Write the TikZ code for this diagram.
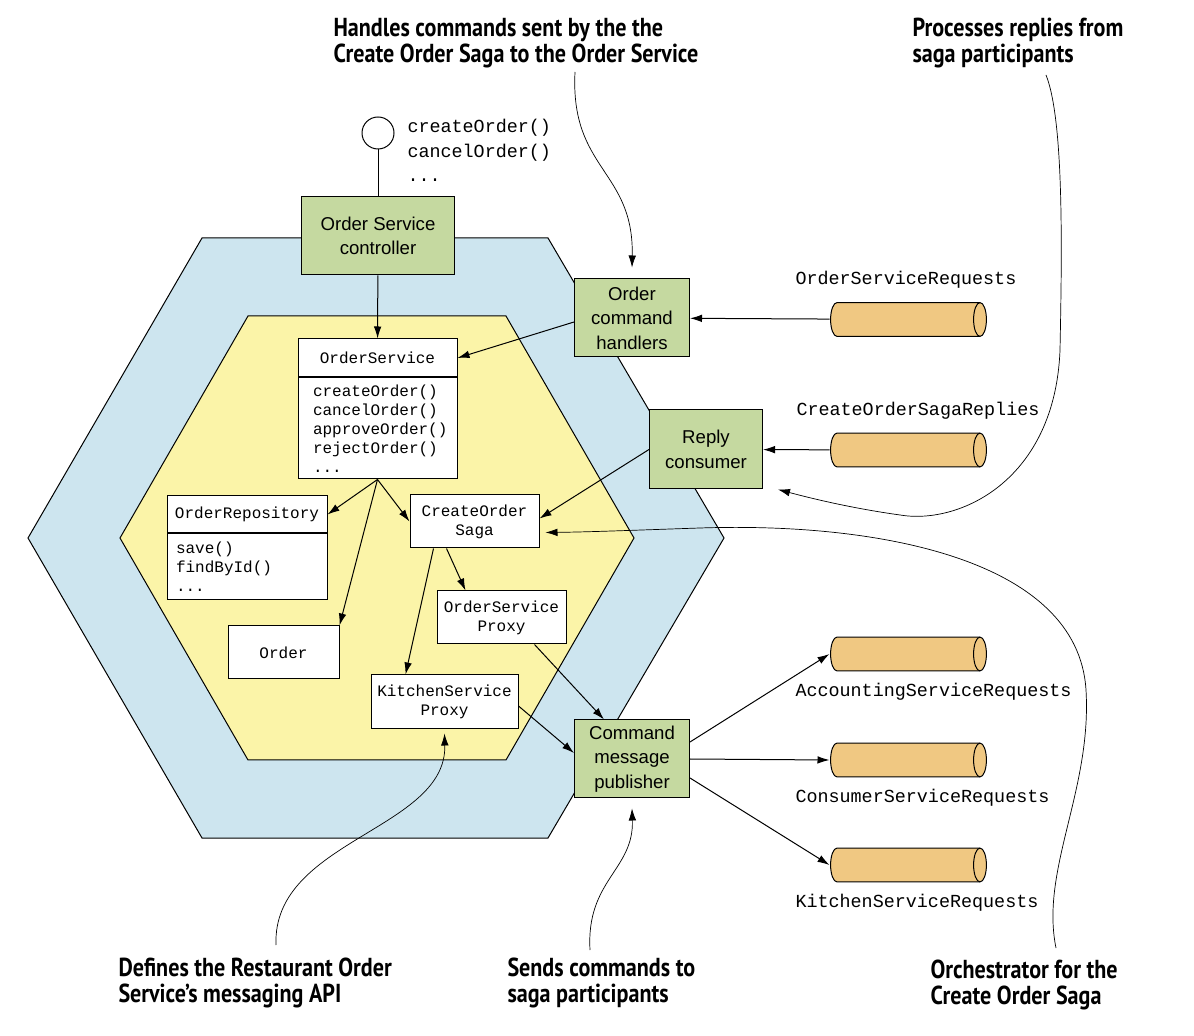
\documentclass[tikz,border=0pt]{standalone}
\usepackage{fontspec}
\setmainfont{Liberation Sans}
\setmonofont{Liberation Mono}
\newfontfamily\capfont{PT Sans}[FakeStretch=0.85]
\usetikzlibrary{arrows.meta}
\definecolor{hexblue}{HTML}{CDE5EF}
\definecolor{hexyellow}{HTML}{FBF4A8}
\definecolor{compgreen}{HTML}{C5D9A0}
\definecolor{queueorange}{HTML}{F0C882}
\begin{document}
\begin{tikzpicture}[x=0.5pt,y=-0.5pt,
    >={Latex[length=6pt,width=3.8pt]},
    every path/.style={line width=0.5pt},
    comp/.style={draw,fill=compgreen,minimum width=57.5pt,minimum height=39pt,inner sep=0pt,align=center,font=\fontsize{9.3}{12.25}\selectfont},
    cls/.style={draw,fill=white,minimum width=64.5pt,minimum height=26.5pt,inner sep=0pt,align=center,font=\ttfamily\fontsize{8}{9.5}\selectfont},
    queue/.style={minimum width=78.5pt,minimum height=17.5pt,inner sep=0pt,
        path picture={
            \path[draw,fill=queueorange]
                ([xshift=3.5pt,yshift=-0.3pt]path picture bounding box.north west)
                -- ([xshift=-3.5pt,yshift=-0.3pt]path picture bounding box.north east)
                arc[start angle=90,end angle=-90,x radius=3.2pt,y radius=8.45pt]
                -- ([xshift=3.5pt,yshift=0.3pt]path picture bounding box.south west)
                arc[start angle=270,end angle=90,x radius=3.2pt,y radius=8.45pt] -- cycle;
            \draw ([xshift=-3.5pt,yshift=-0.3pt]path picture bounding box.north east)
                arc[start angle=90,end angle=270,x radius=3.2pt,y radius=8.45pt];
        }},
    qlabel/.style={anchor=west,inner sep=0pt,font=\ttfamily\fontsize{9.2}{11}\selectfont},
    note/.style={anchor=west,align=left,inner sep=0pt,font=\capfont\bfseries\fontsize{13}{13}\selectfont},
    notelink/.style={->,line width=0.35pt}
]
\useasboundingbox (0,0) rectangle (1194,1036);
\filldraw[fill=hexblue] (202,238) -- (548,238) -- (724,538) -- (548,838) -- (202,838) -- (28,538) -- cycle;
\filldraw[fill=hexyellow] (248,316) -- (506,316) -- (634,538) -- (506,760) -- (248,760) -- (120,538) -- cycle;

\node[circle,draw,fill=white,minimum size=16pt,inner sep=0pt] (port) at (378,133) {};
\node[anchor=north west,align=left,inner sep=0pt,font=\ttfamily\fontsize{9.2}{12.25}\selectfont] (ops) at (407,119) {createOrder()\\cancelOrder()\\...};

\node[comp,minimum width=76.5pt] (ctrl) at (378,236) {Order Service\\controller};
\node[comp] (och) at (632,318) {Order\\command\\handlers};
\node[comp,minimum width=56.5pt,minimum height=39.5pt] (rc) at (706,449.5) {Reply\\consumer};
\node[comp] (pub) at (632,759) {Command\\message\\publisher};

\node[cls,minimum width=79.5pt,minimum height=19pt] (osh) at (377.5,358) {OrderService};
\node[cls,anchor=north,minimum width=79.5pt,minimum height=50.5pt,text width=64.5pt,align=left] (osb) at (osh.south) {createOrder()\\cancelOrder()\\approveOrder()\\rejectOrder()\\...};
\node[cls,minimum width=80pt,minimum height=18.5pt] (orh) at (247,514.5) {OrderRepository};
\node[cls,anchor=north,minimum width=80pt,minimum height=33pt,text width=71pt,align=left] (orb) at (orh.south) {save()\\findById()\\...};
\node[cls] (saga) at (474.5,521.5) {CreateOrder\\Saga};
\node[cls] (osp) at (501.5,617.5) {OrderService\\Proxy};
\node[cls,minimum width=55.5pt] (order) at (283.5,652.5) {Order};
\node[cls,minimum width=73.5pt,minimum height=27pt] (ksp) at (444.5,702) {KitchenService\\Proxy};

\node[queue] (osr) at (908.5,319.5) {};
\node[queue] (cosr) at (908.5,450) {};
\node[queue] (acc) at (908.5,654) {};
\node[queue] (con) at (908.5,760) {};
\node[queue] (kit) at (908.5,865) {};
\node[qlabel] (osrl) at (795,280) {OrderServiceRequests};
\node[qlabel] (cosrl) at (796,411) {CreateOrderSagaReplies};
\node[qlabel] (accl) at (795,692) {AccountingServiceRequests};
\node[qlabel] (conl) at (795,798) {ConsumerServiceRequests};
\node[qlabel] (kitl) at (795,903) {KitchenServiceRequests};

\draw (port) -- (ctrl);
\draw[->] (ctrl) -- (osh);
\draw[->] (osr) -- (och);
\draw[->] ([yshift=-2pt]och.west) -- (osh.east);
\draw[->] (cosr) -- (rc);
\draw[->] (rc.west) -- ([yshift=1.5pt]saga.east);
\draw[->] (osb.south) -- (orh.east);
\draw[->] (osb.south) -- (order.north east);
\draw[->] (osb.south) -- (saga.west);
\draw[->] ([xshift=12pt]saga.south west) -- ([xshift=17.5pt]ksp.north west);
\draw[->] ([xshift=18.5pt]saga.south west) -- ([xshift=14.5pt]osp.north west);
\draw[->] ([xshift=49pt]osp.south west) -- ([xshift=15pt]pub.north west);
\draw[->] ([yshift=-2pt]ksp.east) -- ([yshift=3pt]pub.west);
\draw[->] ([yshift=8.5pt]pub.east) -- (acc.west);
\draw[->] (pub.east) -- (con.west);
\draw[->] ([yshift=-9.5pt]pub.east) -- (kit.west);

\node[note] (hnd) at (333,43.5) {Handles commands sent by the the\\Create Order Saga to the Order Service};
\node[note] (prc) at (912,43.5) {Processes replies from\\saga participants};
\node[note] (dfn) at (118,983) {Defines the Restaurant Order\\Service’s messaging API};
\node[note] (snd) at (507,983) {Sends commands to\\saga participants};
\node[note] (orc) at (930,985) {Orchestrator for the\\Create Order Saga};
\coordinate (hndtail) at (575,72);
\coordinate (prctail) at (1046,75);
\coordinate (dfntail) at (276,945);
\coordinate (sndtail) at (590,950);
\coordinate (orctail) at (1056,948);

\draw[notelink] (hndtail) .. controls (570,170) and (634,170) .. ([yshift=5.5pt]och.north);
\draw[notelink] (prctail) .. controls (1064,120) and (1062,250) .. (1060,350) .. controls (1055,480) and (960,525) .. (900,515) .. controls (850,508) and (810,498) .. ([xshift=7.5pt]rc.south east);
\draw[notelink] (orctail) .. controls (1040,870) and (1092,790) .. (1086,690) .. controls (1078,560) and (880,522) .. (700,528) .. controls (640,530) and (590,532) .. ([xshift=3pt,yshift=-5.5pt]saga.east);
\draw[notelink] (sndtail) .. controls (586,880) and (634,870) .. ([yshift=-5pt]pub.south);
\draw[notelink] (dfntail) .. controls (272,840) and (447,830) .. ([yshift=-2pt]ksp.south);
\end{tikzpicture}
\end{document}
